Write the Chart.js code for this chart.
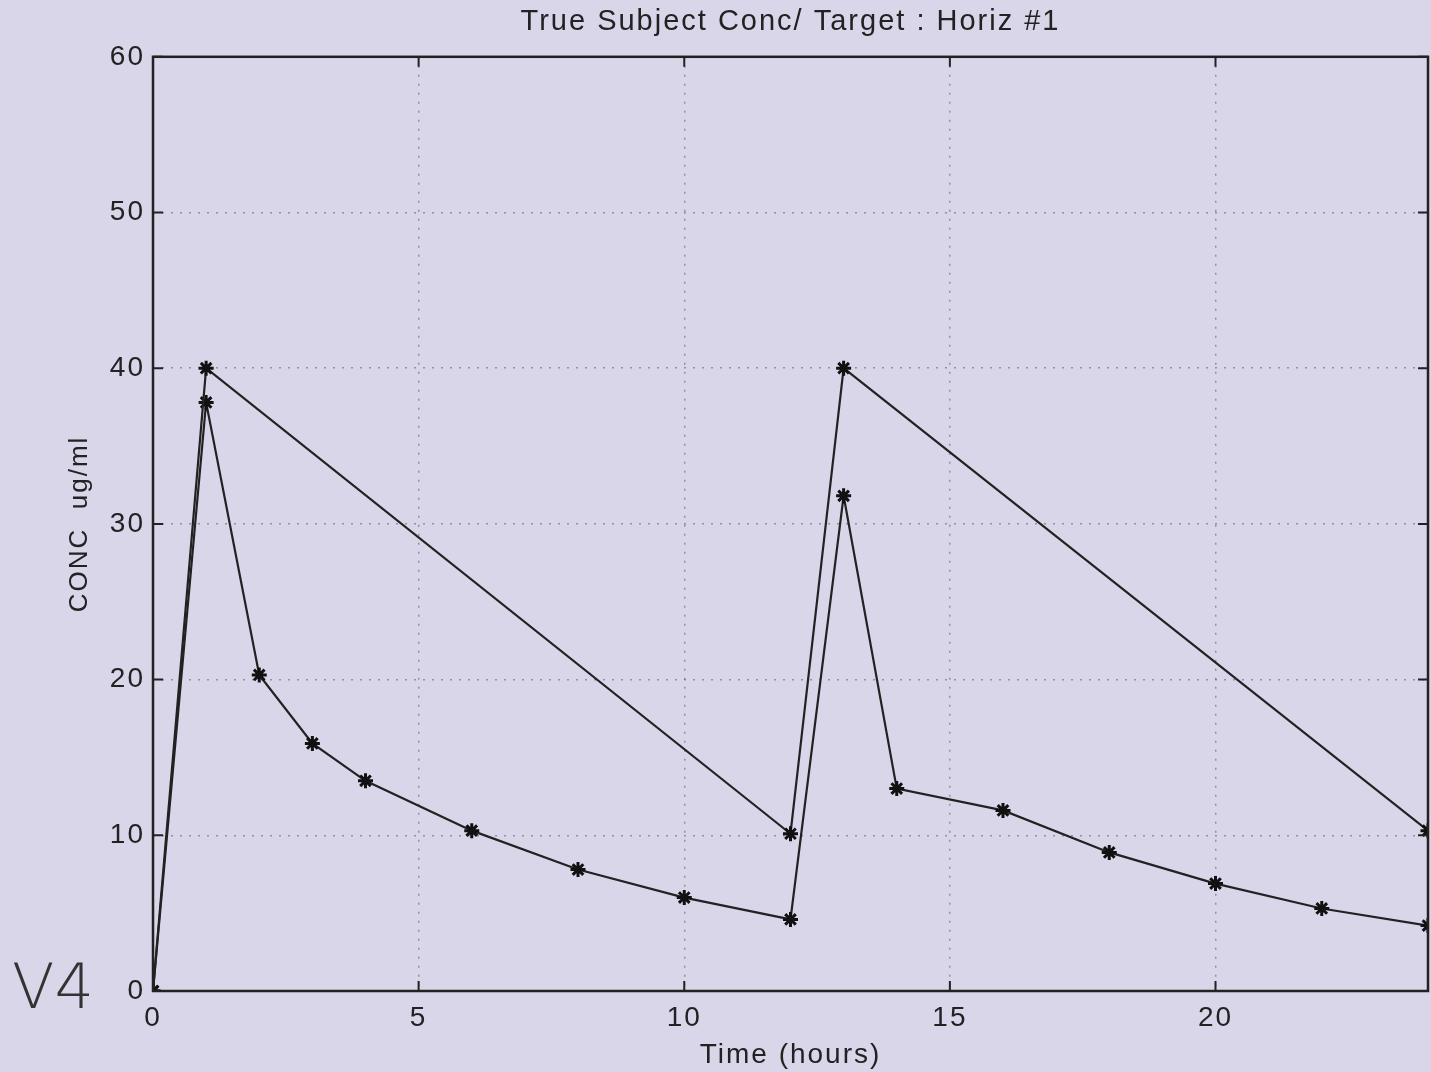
<!DOCTYPE html>
<html>

<head>
    <title>True Subject Conc</title>
    <meta charset="UTF-8">
    <script src="https://cdn.jsdelivr.net/npm/chart.js"></script>
    <style>
        html, body { margin: 0; padding: 0; background: #d9d6ea; }
        #chartContainer { width: 1431px; height: 1072px; }
    </style>
</head>

<body>
    <div id="chartContainer">
        <canvas id="concChart"></canvas>
    </div>

    <script>
        // time points (hours) and concentrations
        var upperTimes = [0, 1, 12, 13, 24];
        var upperConc = [0, 40, 10.1, 40, 10.3];

        var lowerTimes = [0, 1, 2, 3, 4, 6, 8, 10, 12, 13, 14, 16, 18, 20, 22, 24];
        var lowerConc = [0, 37.8, 20.3, 15.9, 13.5, 10.3, 7.8, 6.0, 4.6, 31.8, 13.0, 11.6, 8.9, 6.9, 5.3, 4.2];

        var xTicks = [0, 5, 10, 15, 20];
        var yTicks = [0, 10, 20, 30, 40, 50, 60];

        var bg = '#d9d6ea';
        var ink = '#222';

        function toPoints(xs, ys) {
            return xs.map(function (x, i) { return { x: x, y: ys[i] }; });
        }

        // background, letter spacing, box, inward ticks and the hand note
        var matlabLook = {
            id: 'matlabLook',
            beforeDraw: function (chart) {
                var ctx = chart.ctx;
                ctx.save();
                ctx.fillStyle = bg;
                ctx.fillRect(0, 0, chart.width, chart.height);
                ctx.restore();
                ctx.letterSpacing = '2px';
            },
            afterDatasetsDraw: function (chart) {
                var ctx = chart.ctx;
                var a = chart.chartArea;
                var xs = chart.scales.x, ys = chart.scales.y;
                ctx.save();
                ctx.strokeStyle = ink;
                ctx.lineWidth = 2.5;
                ctx.strokeRect(a.left, a.top, a.right - a.left, a.bottom - a.top);
                ctx.lineWidth = 2;
                ctx.beginPath();
                xTicks.forEach(function (v) {
                    var px = xs.getPixelForValue(v);
                    ctx.moveTo(px, a.bottom); ctx.lineTo(px, a.bottom - 10);
                    ctx.moveTo(px, a.top); ctx.lineTo(px, a.top + 10);
                });
                yTicks.forEach(function (v) {
                    var py = ys.getPixelForValue(v);
                    ctx.moveTo(a.left, py); ctx.lineTo(a.left + 10, py);
                    ctx.moveTo(a.right, py); ctx.lineTo(a.right - 10, py);
                });
                ctx.stroke();
                // handwritten label in the corner
                ctx.letterSpacing = '0px';
                ctx.fillStyle = '#333';
                ctx.font = '200 62px "DejaVu Sans"';
                ctx.textAlign = 'left';
                ctx.textBaseline = 'alphabetic';
                ctx.fillText('V4', 12, 1008);
                ctx.restore();
            }
        };

        var ctx = document.getElementById('concChart').getContext('2d');
        var chart = new Chart(ctx, {
            type: 'line',
            data: {
                datasets: [{
                    label: 'upper',
                    data: toPoints(upperTimes, upperConc),
                    borderColor: ink,
                    borderWidth: 2.2,
                    pointStyle: 'star',
                    pointRadius: 7.5,
                    pointBorderWidth: 3,
                    pointBorderColor: '#111',
                    pointBackgroundColor: '#111',
                    tension: 0
                }, {
                    label: 'lower',
                    data: toPoints(lowerTimes, lowerConc),
                    borderColor: ink,
                    borderWidth: 2.2,
                    pointStyle: 'star',
                    pointRadius: 7.5,
                    pointBorderWidth: 3,
                    pointBorderColor: '#111',
                    pointBackgroundColor: '#111',
                    tension: 0
                }]
            },
            options: {
                responsive: true,
                maintainAspectRatio: false,
                animation: false,
                layout: { autoPadding: false, padding: { left: 0, right: 3, top: 0, bottom: 0 } },
                plugins: {
                    legend: { display: false },
                    tooltip: { enabled: false },
                    title: {
                        display: true,
                        fullSize: false,
                        text: 'True Subject Conc/ Target : Horiz #1',
                        color: ink,
                        font: { family: 'Liberation Sans', size: 29, weight: 'normal', lineHeight: 1.2 },
                        padding: { top: 5, bottom: 17 }
                    }
                },
                scales: {
                    x: {
                        type: 'linear',
                        min: 0,
                        max: 24,
                        afterBuildTicks: function (scale) {
                            scale.ticks = xTicks.map(function (v) { return { value: v }; });
                        },
                        afterFit: function (scale) { scale.height = 81; },
                        border: { display: false, dash: [2, 7] },
                        grid: {
                            color: 'rgba(60,60,70,0.45)',
                            lineWidth: 1.5,
                            drawTicks: false
                        },
                        ticks: {
                            color: ink,
                            padding: 10,
                            maxRotation: 0,
                            font: { family: 'Liberation Sans', size: 28 }
                        },
                        title: {
                            display: true,
                            text: 'Time (hours)',
                            color: ink,
                            padding: { top: 0, bottom: 0 },
                            font: { family: 'Liberation Sans', size: 28 }
                        }
                    },
                    y: {
                        min: 0,
                        max: 60,
                        afterBuildTicks: function (scale) {
                            scale.ticks = yTicks.map(function (v) { return { value: v }; });
                        },
                        afterFit: function (scale) { scale.width = 153; },
                        border: { display: false, dash: [2, 7] },
                        grid: {
                            color: 'rgba(60,60,70,0.45)',
                            lineWidth: 1.5,
                            drawTicks: false
                        },
                        ticks: {
                            color: ink,
                            padding: 8,
                            font: { family: 'Liberation Sans', size: 28 }
                        },
                        title: {
                            display: true,
                            text: 'CONC  ug/ml',
                            color: ink,
                            padding: { top: 64, bottom: 0 },
                            font: { family: 'Liberation Sans', size: 26 }
                        }
                    }
                }
            },
            plugins: [matlabLook]
        });
    </script>
</body>

</html>
